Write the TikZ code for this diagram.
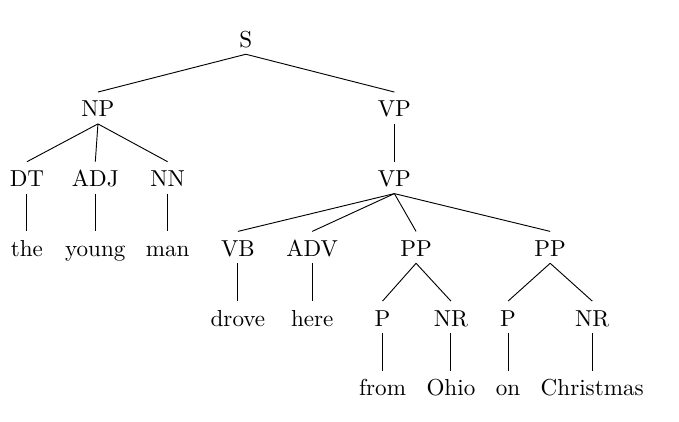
\documentclass[tikz,border=0pt]{standalone}
\usetikzlibrary{arrows}
\tikzset{
  cat/.style = {anchor=base, inner sep=3pt, outer sep=0pt,
                text height=7.8pt, text depth=0pt},
  word/.style = {cat},
  branch/.style = {draw, thin, black},
}

\begin{document}
\begin{tikzpicture}
\useasboundingbox (0,0) rectangle (10.33,-6.42);
\node[cat] (S) at (3.74,-0.72) {S};
\node[cat] (NP) at (1.49,-1.78) {NP};
\node[cat] (VP) at (6.00,-1.78) {VP};
\node[cat] (DT) at (0.41,-2.84) {DT};
\node[cat] (ADJ) at (1.45,-2.84) {ADJ};
\node[cat] (NN) at (2.55,-2.84) {NN};
\node[cat] (VPb) at (6.00,-2.84) {VP};
\node[word] (the) at (0.41,-3.90) {the};
\node[word] (young) at (1.45,-3.90) {young};
\node[word] (man) at (2.55,-3.90) {man};
\node[cat] (VB) at (3.62,-3.90) {VB};
\node[cat] (ADV) at (4.75,-3.90) {ADV};
\node[cat] (PPa) at (6.33,-3.90) {PP};
\node[cat] (PPb) at (8.37,-3.90) {PP};
\node[word] (drove) at (3.62,-4.96) {drove};
\node[word] (here) at (4.75,-4.96) {here};
\node[cat] (Pa) at (5.82,-4.96) {P};
\node[cat] (NRa) at (6.86,-4.96) {NR};
\node[cat] (Pb) at (7.73,-4.96) {P};
\node[cat] (NRb) at (9.01,-4.96) {NR};
\node[word] (from) at (5.82,-6.02) {from};
\node[word] (Ohio) at (6.86,-6.02) {Ohio};
\node[word] (on) at (7.73,-6.02) {on};
\node[word] (Christmas) at (9.01,-6.02) {Christmas};
\path[branch] (S.south) edge (NP.north)
                        edge (VP.north)
        (NP.south) edge (DT.north)
                   edge (ADJ.north)
                   edge (NN.north)
        (VP.south) edge (VPb.north)
        (DT.south) edge (the.north)
        (ADJ.south) edge (young.north)
        (NN.south) edge (man.north)
        (VPb.south) edge (VB.north)
                    edge (ADV.north)
                    edge (PPa.north)
                    edge (PPb.north)
        (VB.south) edge (drove.north)
        (ADV.south) edge (here.north)
        (PPa.south) edge (Pa.north)
                    edge (NRa.north)
        (PPb.south) edge (Pb.north)
                    edge (NRb.north)
        (Pa.south) edge (from.north)
        (NRa.south) edge (Ohio.north)
        (Pb.south) edge (on.north)
        (NRb.south) edge (Christmas.north);
\end{tikzpicture}
\end{document}
